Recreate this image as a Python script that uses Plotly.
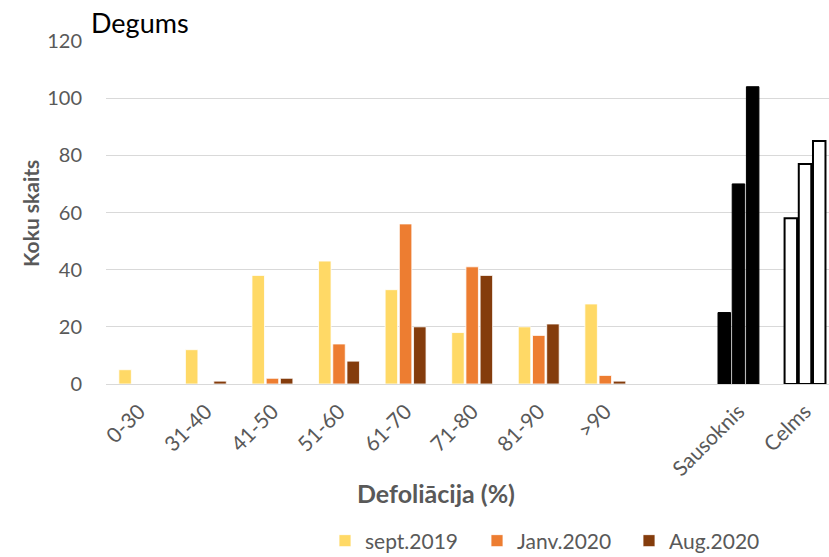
import plotly.graph_objects as go

categories = ["0-30", "31-40", "41-50", "51-60", "61-70", "71-80", "81-90", ">90", " ", "Sausoknis", "Celms"]
series_names = ["sept.2019", "Janv.2020", "Aug.2020"]
sept_2019 = [5, 12, 38, 43, 33, 18, 20, 28, None, 25, 58]
janv_2020 = [0, 0, 2, 14, 56, 41, 17, 3, None, 70, 77]
aug_2020 = [0, 1, 2, 8, 20, 38, 21, 1, None, 104, 85]
series_colors = ["#FFD966", "#ED7D31", "#843C0C"]
y_ticks = [0, 20, 40, 60, 80, 100, 120]

FONT = "Lato, 'Open Sans', sans-serif"
GREY = "#595959"

fig = go.Figure()
for name, vals, col in zip(series_names, [sept_2019, janv_2020, aug_2020], series_colors):
    fills, lines, widths = [], [], []
    for cat in categories:
        if cat == "Sausoknis":
            fills.append("#000000"); lines.append("#000000"); widths.append(1)
        elif cat == "Celms":
            fills.append("#FFFFFF"); lines.append("#000000"); widths.append(2)
        else:
            fills.append(col); lines.append("#FFFFFF"); widths.append(0.8)
    fig.add_trace(go.Bar(
        x=categories, y=vals, name=name,
        marker=dict(color=fills, line=dict(color=lines, width=widths)),
    ))

fig.update_layout(
    width=829, height=557,
    margin=dict(l=106, r=0, t=41, b=173, autoexpand=False),
    paper_bgcolor="white", plot_bgcolor="white",
    barmode="group", bargap=0.36, bargroupgap=0.12,
    font=dict(family=FONT, color=GREY, size=20),
    title=dict(text="Degums", x=91 / 829, xanchor="left", xref="container",
               y=1 - 24 / 557, yanchor="middle", yref="container",
               font=dict(family=FONT, size=27, color="#000000", weight=400)),
    xaxis=dict(type="category", categoryorder="array", categoryarray=categories,
               range=[-0.5, 10.36], tickangle=-45, tickfont=dict(size=21, color=GREY),
               showgrid=False, showline=True, linecolor="#D9D9D9", linewidth=1,
               ticks="", ticklabelstandoff=6, automargin=False),
    yaxis=dict(range=[0, 120], tickvals=y_ticks, tickfont=dict(size=20, color=GREY),
               showgrid=True, gridcolor="#D9D9D9", gridwidth=1, zeroline=True,
               zerolinecolor="#D9D9D9", zerolinewidth=1, ticks="", ticklabelstandoff=23,
               automargin=False),
    showlegend=True,
    legend=dict(orientation="h", x=(325 - 106) / 723, xanchor="left",
                y=(384 - 541) / 343, yanchor="middle",
                font=dict(size=21, color=GREY), entrywidth=107, entrywidthmode="pixels",
                traceorder="normal", bgcolor="rgba(0,0,0,0)"),
    annotations=[
        dict(text="<b>Koku skaits</b>", xref="paper", yref="paper",
             x=(31 - 106) / 723, y=(384 - 214) / 343, xanchor="center", yanchor="middle",
             textangle=-90, showarrow=False, font=dict(size=21, color=GREY, family=FONT)),
        dict(text="<b>Defoliācija (%)</b>", xref="paper", yref="paper",
             x=(436 - 106) / 723, y=(384 - 493) / 343, xanchor="center", yanchor="middle",
             showarrow=False, font=dict(size=25, color=GREY, family=FONT)),
    ],
)

fig.write_html("out.html")
